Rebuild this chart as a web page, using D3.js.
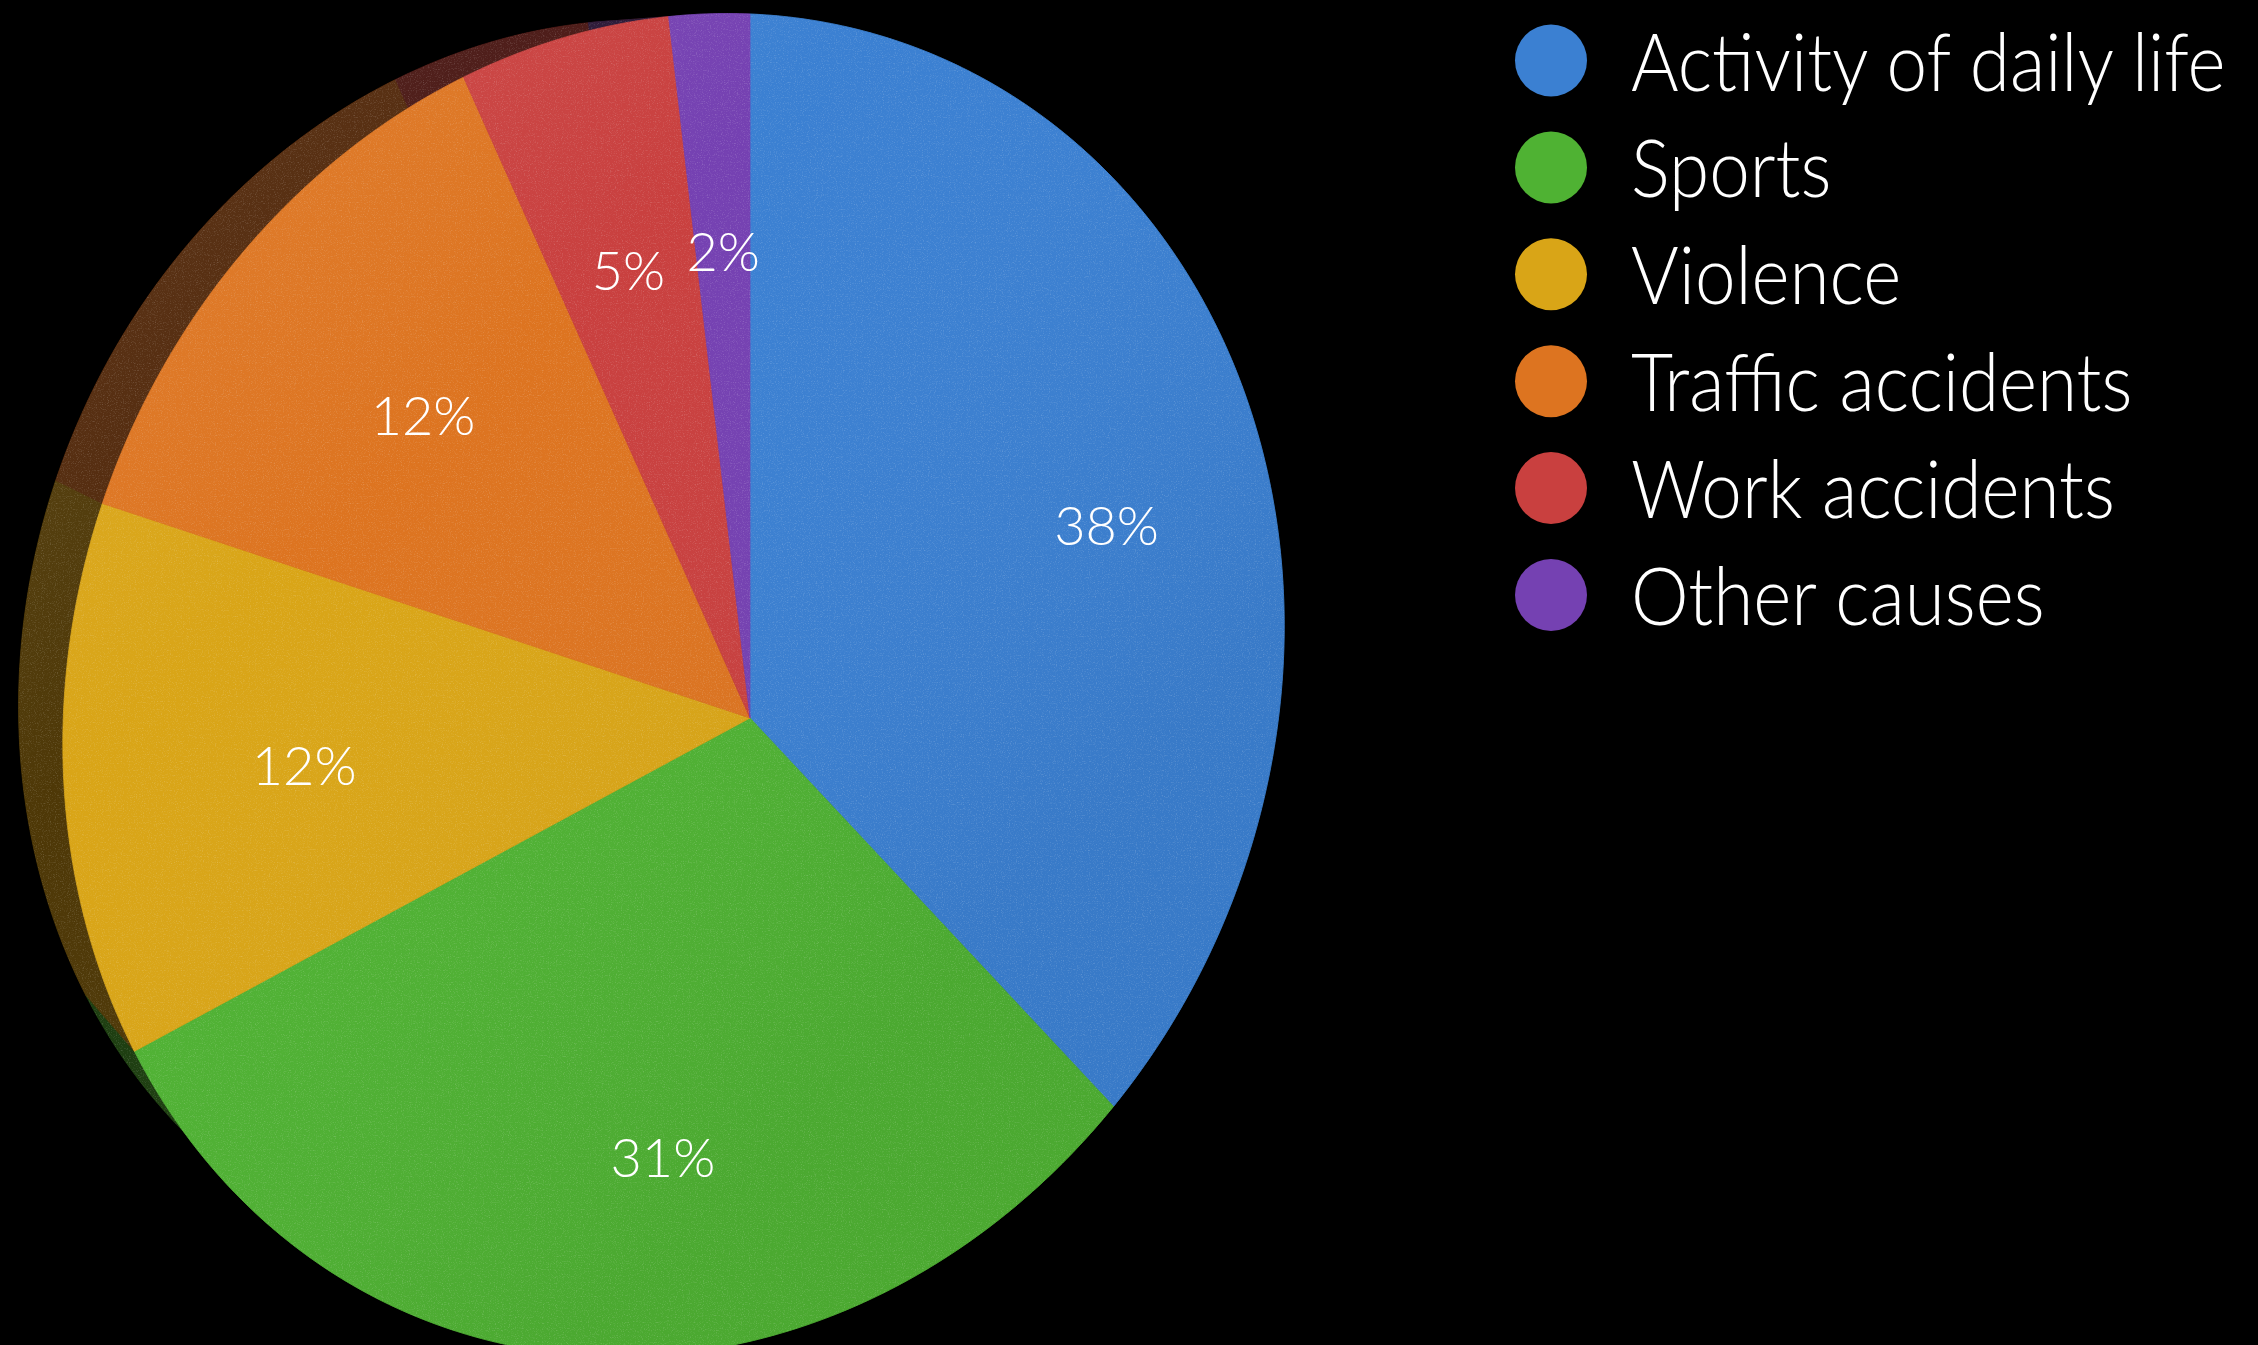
<!DOCTYPE html>
<html>
<head>
<meta charset="utf-8">
<script src="https://cdn.jsdelivr.net/npm/d3@7"></script>
<style>
  html, body { margin: 0; padding: 0; background: #000; }
  svg { display: block; }
</style>
</head>
<body>
<script>
// Causes of injury, share of cases (%)
const categories = ["Activity of daily life", "Sports", "Violence", "Traffic accidents", "Work accidents", "Other causes"];
const shares = [38, 31, 12, 12, 5, 2];
const sliceColors = ["#3b80d2", "#4fb233", "#d9a517", "#dd7420", "#c9403f", "#7541b2"];

const W = 2258, H = 1345;

const svg = d3.select("body").append("svg")
  .attr("width", W).attr("height", H)
  .attr("viewBox", `0 0 ${W} ${H}`);

svg.append("rect").attr("width", W).attr("height", H).attr("fill", "#000");

const defs = svg.append("defs");

// fine grain over the coloured surfaces
const grain = defs.append("filter").attr("id", "grain")
  .attr("x", 0).attr("y", 0).attr("width", 1).attr("height", 1);
grain.append("feTurbulence").attr("type", "fractalNoise")
  .attr("baseFrequency", 0.85).attr("numOctaves", 2).attr("seed", 7).attr("result", "n");
grain.append("feColorMatrix").attr("type", "matrix")
  .attr("values", "0 0 0 0 1  0 0 0 0 1  0 0 0 0 1  0 0 0 2.2 -1.15");

// soft light falling from the upper left
const sheen = defs.append("linearGradient").attr("id", "sheen")
  .attr("x1", 0).attr("y1", 0).attr("x2", 0.7).attr("y2", 0.75);
sheen.append("stop").attr("offset", 0).attr("stop-color", "#ffd9a0").attr("stop-opacity", 0.10);
sheen.append("stop").attr("offset", 0.45).attr("stop-color", "#fff").attr("stop-opacity", 0.0);
sheen.append("stop").attr("offset", 1).attr("stop-color", "#000").attr("stop-opacity", 0.05);

// ---- tilted disc: unit disc coordinates -> screen (perspective homography)
const hub = [750, 718];
const view = { h11: 600, h21: -63, h22: 661.2, g1: 0.125, g2: 0.0608 };
function project(angle, k) {
  const a = k * Math.sin(angle), b = -k * Math.cos(angle);
  const w = 1 + view.g1 * a + view.g2 * b;
  return [hub[0] + view.h11 * a / w, hub[1] + (view.h21 * a + view.h22 * b) / w];
}
// rim: the underside of the disc recedes toward a vanishing point on the left
const vanish = [-675, 119], depth = 0.06;
const recede = p => [p[0] + depth * (vanish[0] - p[0]), p[1] + depth * (vanish[1] - p[1])];

const arcs = d3.pie().sort(null).value(d => d)(shares);
const line = d3.line();

function rimPoints(d) {
  const n = Math.max(4, Math.ceil((d.endAngle - d.startAngle) / (Math.PI / 360)));
  return d3.range(n + 1).map(i => project(d.startAngle + (d.endAngle - d.startAngle) * i / n, 1));
}

const sideColor = c => {
  const k = d3.rgb(c);
  return d3.rgb(k.r * 0.36, k.g * 0.34, k.b * 0.3).formatHex();
};

const pieG = svg.append("g");

// rim / side first
const sides = pieG.append("g").attr("class", "sides");
arcs.forEach((d, i) => {
  const rim = rimPoints(d);
  const under = rim.map(recede);
  const col = sideColor(sliceColors[i]);
  sides.append("path")
    .attr("d", line([recede(hub), ...under]) + "Z")
    .attr("fill", col);
  sides.append("path")
    .attr("d", line([...rim, ...under.slice().reverse()]) + "Z")
    .attr("fill", col).attr("stroke", col).attr("stroke-width", 0.8);
});

// top faces
const faces = pieG.append("g").attr("class", "faces");
const facePaths = arcs.map(d => line([hub, ...rimPoints(d)]) + "Z");
faces.selectAll("path").data(arcs).join("path")
  .attr("d", (d, i) => facePaths[i])
  .attr("fill", (d, i) => sliceColors[i])
  .attr("stroke", (d, i) => sliceColors[i])
  .attr("stroke-width", 0.8);

// clip for surface effects
const clip = defs.append("clipPath").attr("id", "disc");
clip.append("path").attr("d", line(d3.range(721).map(i => project(i * Math.PI / 360, 1))) + "Z");
arcs.forEach(d => {
  const rim = rimPoints(d);
  clip.append("path").attr("d", line([...rim, ...rim.map(recede).reverse()]) + "Z");
});

const fx = pieG.append("g").attr("clip-path", "url(#disc)");
fx.append("rect").attr("x", 0).attr("y", 0).attr("width", 1300).attr("height", H)
  .attr("fill", "url(#sheen)");
fx.append("rect").attr("x", 0).attr("y", 0).attr("width", 1300).attr("height", H)
  .attr("filter", "url(#grain)").attr("opacity", 0.22);

// percentage labels
const labelFont = "Lato, 'Open Sans', 'Noto Sans', sans-serif";
pieG.append("g").selectAll("text").data(arcs).join("text")
  .attr("transform", d => {
    const p = project((d.startAngle + d.endAngle) / 2, 0.68);
    return `translate(${p[0]},${p[1]})`;
  })
  .attr("text-anchor", "middle")
  .attr("dominant-baseline", "central")
  .attr("font-family", labelFont)
  .attr("font-weight", 300)
  .attr("font-size", 54)
  .attr("fill", "#fff")
  .text(d => `${d.data}%`);

// legend
const legend = svg.append("g").attr("class", "legend");
const rowY = d3.scalePoint().domain(categories).range([60.5, 595]);
const rows = legend.selectAll("g").data(categories).join("g")
  .attr("transform", d => `translate(0,${rowY(d)})`);
rows.append("circle")
  .attr("cx", 1551).attr("cy", 0).attr("r", 36)
  .attr("fill", (d, i) => sliceColors[i]);
rows.append("text")
  .attr("transform", "translate(1631,30) scale(0.91,1)")
  .attr("font-family", labelFont)
  .attr("font-weight", 300)
  .attr("font-size", 80)
  .attr("fill", "#fff")
  .text(d => d);
</script>
</body>
</html>
